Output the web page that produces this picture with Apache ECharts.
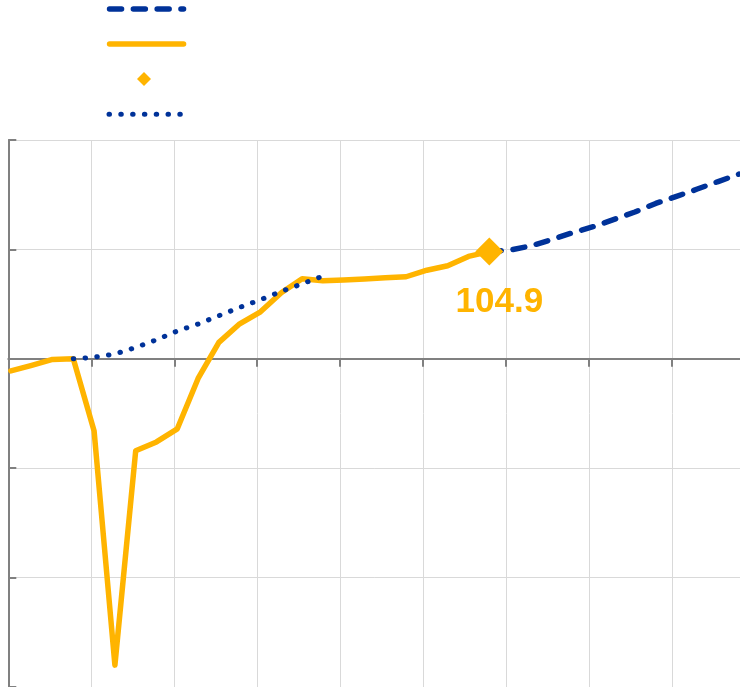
<!DOCTYPE html>
<html><head><meta charset="utf-8">
<script src="https://cdn.jsdelivr.net/npm/echarts@6/dist/echarts.min.js"></script>
<style>html,body{margin:0;padding:0;background:#fff}#c{width:740px;height:687px}</style>
</head><body><div id="c"></div>
<script>
// Quarterly categories 2019Q1 .. 2027Q4
const quarters = ['2019Q1','2019Q2','2019Q3','2019Q4','2020Q1','2020Q2','2020Q3','2020Q4',
  '2021Q1','2021Q2','2021Q3','2021Q4','2022Q1','2022Q2','2022Q3','2022Q4',
  '2023Q1','2023Q2','2023Q3','2023Q4','2024Q1','2024Q2','2024Q3','2024Q4',
  '2025Q1','2025Q2','2025Q3','2025Q4','2026Q1','2026Q2','2026Q3','2026Q4',
  '2027Q1','2027Q2','2027Q3','2027Q4'];
// Actual outcome (index)
const actual = [99.45, 99.7, 99.97, 100.0, 96.7, 86.0, 95.8, 96.2,
  96.8, 99.1, 100.75, 101.6, 102.15, 103.02, 103.66, 103.57,
  103.6, 103.65, 103.7, 103.75, 104.05, 104.25, 104.68, 104.9];
// Pre-pandemic path (dotted)
const prePandemic = [null, null, null, 100.0, 100.07, 100.22, 100.52, 100.87,
  101.27, 101.59, 101.97, 102.35, 102.7, 103.08, 103.43, 103.78];
// Projection (dashed)
const projection = [null, null, null, null, null, null, null, null,
  null, null, null, null, null, null, null, null,
  null, null, null, null, null, null, null, 104.9,
  104.97, 105.16, 105.45, 105.76, 106.04, 106.37, 106.71, 107.1,
  107.42, 107.76, 108.1, 108.44];
// Latest observation marker
const latestQuarter = '2024Q4';
const latestValue = 104.9;
// Y axis ticks
const yMin = 85, yMax = 110, yStep = 5;
const axisY = 100;
const xTickValues = [0, 1, 2, 3, 4, 5, 6, 7, 8];

const BLUE = '#003299', ORANGE = '#FFB400', GRID = '#d9d9d9', AXIS = '#808080';
const dashed = [12, 11.8], dotted = [0.5, 11.3];
const chart = echarts.init(document.getElementById('c'), null, {renderer: 'canvas'});
const legendBase = {orient: 'horizontal', padding: 0, selectedMode: false,
  formatter: () => '', textStyle: {fontSize: 6}};
chart.setOption({
  animation: false,
  grid: [
    {left: 8.3, right: -2, top: 140, bottom: 0},
    {left: 10.9, right: 1.1, top: 140, bottom: 0},
    {left: 8.3, right: -2, top: 140, height: 547 * (yMax - axisY) / (yMax - yMin)}
  ],
  xAxis: [
    {gridIndex: 0, type: 'value', min: 0, max: 8.818, interval: 1,
      axisLine: {show: false}, axisTick: {show: false}, axisLabel: {show: false},
      splitLine: {show: true, lineStyle: {color: GRID, width: 1}}},
    {gridIndex: 1, type: 'category', data: quarters, boundaryGap: false, show: false},
    {gridIndex: 2, type: 'value', min: 0, max: 8.818, interval: 1,
      axisLine: {show: true, onZero: false, lineStyle: {color: AXIS, width: 2}},
      axisTick: {show: true, length: 8, customValues: xTickValues, lineStyle: {color: AXIS, width: 2}},
      axisLabel: {show: false}, splitLine: {show: false}}
  ],
  yAxis: [
    {gridIndex: 0, type: 'value', min: yMin, max: yMax, interval: yStep,
      axisLine: {show: true, onZero: false, lineStyle: {color: AXIS, width: 2}},
      axisTick: {show: true, inside: true, length: 8, lineStyle: {color: AXIS, width: 2}},
      axisLabel: {show: false},
      splitLine: {show: true, lineStyle: {color: GRID, width: 1}}},
    {gridIndex: 1, type: 'value', min: yMin, max: yMax, show: false},
    {gridIndex: 2, type: 'value', min: axisY, max: yMax, show: false}
  ],
  legend: [
    Object.assign({}, legendBase, {data: ['Projection'], left: 106.8, top: 4, itemWidth: 74, itemHeight: 10,
      itemStyle: {opacity: 0}, lineStyle: {color: BLUE, width: 5.5, type: dashed, cap: 'round'}}),
    Object.assign({}, legendBase, {data: ['Actual'], left: 106.8, top: 39, itemWidth: 74, itemHeight: 10,
      itemStyle: {opacity: 0}, lineStyle: {color: ORANGE, width: 5.5, type: 'solid', cap: 'round'}}),
    Object.assign({}, legendBase, {data: [{name: 'Latest', icon: 'diamond'}], left: 137, top: 72, itemWidth: 14, itemHeight: 14,
      itemStyle: {color: ORANGE, opacity: 1}}),
    Object.assign({}, legendBase, {data: ['Pre-pandemic'], left: 106.5, top: 109.3, itemWidth: 72, itemHeight: 10,
      itemStyle: {opacity: 0}, lineStyle: {color: BLUE, width: 5, type: dotted, cap: 'round'}})
  ],
  series: [
    {name: 'Projection', type: 'line', xAxisIndex: 1, yAxisIndex: 1, data: projection,
      symbol: 'none', z: 3,
      lineStyle: {color: BLUE, width: 5.5, type: dashed, cap: 'round', join: 'round'},
      itemStyle: {color: BLUE}},
    {name: 'Actual', type: 'line', xAxisIndex: 1, yAxisIndex: 1, data: actual,
      symbol: 'none', z: 4,
      lineStyle: {color: ORANGE, width: 5.5, cap: 'round', join: 'round'},
      itemStyle: {color: ORANGE}},
    {name: 'Pre-pandemic', type: 'line', xAxisIndex: 1, yAxisIndex: 1, data: prePandemic,
      symbol: 'none', z: 5,
      lineStyle: {color: BLUE, width: 5, type: dotted, cap: 'round'},
      itemStyle: {color: BLUE}},
    {name: 'Latest', type: 'scatter', xAxisIndex: 1, yAxisIndex: 1,
      data: [[latestQuarter, latestValue]], symbol: 'diamond', symbolSize: 28, z: 6,
      itemStyle: {color: ORANGE, opacity: 1},
      label: {show: true, position: 'bottom', offset: [10, 14],
        formatter: (p) => p.value[1].toFixed(1),
        color: ORANGE, fontSize: 35, fontWeight: 'bold', opacity: 1,
        fontFamily: '"Liberation Sans", Arial, sans-serif'}}
  ]
});
</script>
</body></html>
